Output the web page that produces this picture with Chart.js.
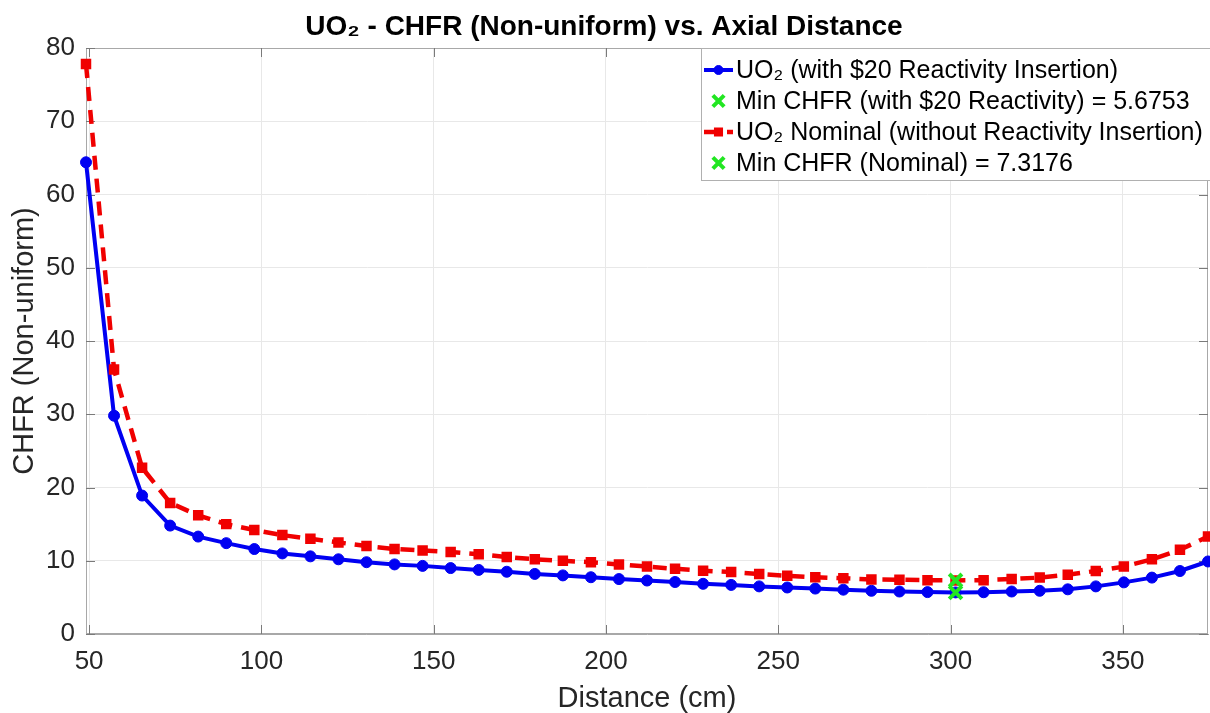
<!DOCTYPE html>
<html>
<head>
<meta charset="utf-8">
<title>UO₂ - CHFR (Non-uniform) vs. Axial Distance</title>
<script src="https://cdn.jsdelivr.net/npm/chart.js@4.4.1/dist/chart.umd.min.js"></script>
<style>
  html, body { margin: 0; padding: 0; background: #ffffff; }
  #wrap { width: 1210px; height: 713px; }
</style>
</head>
<body>
<div id="wrap"><canvas id="chart" width="1210" height="713"></canvas></div>
<script>
// Axial positions of the calculation nodes (cm)
const distance = [
  49.10, 57.24, 65.38, 73.52, 81.66, 89.80, 97.94, 106.08, 114.22, 122.36,
  130.50, 138.64, 146.78, 154.92, 163.06, 171.20, 179.34, 187.48, 195.62, 203.76,
  211.90, 220.04, 228.18, 236.32, 244.46, 252.60, 260.74, 268.88, 277.02, 285.16,
  293.30, 301.44, 309.58, 317.72, 325.86, 334.00, 342.14, 350.28, 358.42, 366.56,
  374.70
];

// CHFR with the $20 reactivity insertion
const chfrReactivity = [
  64.4, 29.8, 18.9, 14.8, 13.3, 12.4, 11.6, 11.0, 10.6, 10.2,
  9.8, 9.5, 9.3, 9.0, 8.75, 8.5, 8.2, 8.0, 7.75, 7.5,
  7.3, 7.1, 6.85, 6.7, 6.5, 6.35, 6.2, 6.05, 5.9, 5.8,
  5.72, 5.6753, 5.7, 5.8, 5.9, 6.1, 6.5, 7.05, 7.7, 8.6,
  9.9
];

// CHFR at nominal conditions (no reactivity insertion)
const chfrNominal = [
  77.8, 36.1, 22.7, 17.9, 16.2, 15.0, 14.2, 13.5, 13.0, 12.5,
  12.0, 11.6, 11.4, 11.2, 10.9, 10.5, 10.2, 10.0, 9.8, 9.5,
  9.2, 8.9, 8.65, 8.45, 8.2, 7.95, 7.75, 7.6, 7.45, 7.4,
  7.35, 7.3176, 7.35, 7.5, 7.7, 8.1, 8.6, 9.2, 10.2, 11.5,
  13.3
];

// Location and value of the minimum CHFR for each case
const minDistance = 301.44;
const minChfrReactivity = 5.6753;
const minChfrNominal = 7.3176;

const xTicks = [50, 100, 150, 200, 250, 300, 350];
const yTicks = [0, 10, 20, 30, 40, 50, 60, 70, 80];

const seriesLabels = [
  'UO₂ (with $20 Reactivity Insertion)',
  'Min CHFR (with $20 Reactivity) = 5.6753',
  'UO₂ Nominal (without Reactivity Insertion)',
  'Min CHFR (Nominal) = 7.3176'
];

const FONT = "'Liberation Sans', Arial, Helvetica, sans-serif";
const BLUE = '#0000f2';
const RED = '#f00000';
const GREEN = '#22e622';
const GRID = '#e8e8e8';
const FRAME = '#a8a8a8';
const INK = '#262626';

const toPoints = (xs, ys) => xs.map((x, i) => ({ x: x, y: ys[i] }));

// Box outline plus inward-pointing tick marks on all four sides
const framePlugin = {
  id: 'frameTicks',
  beforeDatasetsDraw(chart) {
    const { ctx, chartArea: a, scales } = chart;
    ctx.save();
    ctx.strokeStyle = FRAME;
    ctx.lineWidth = 1;
    ctx.strokeRect(Math.round(a.left) + 0.5, Math.round(a.top) + 0.5,
      Math.round(a.right - a.left) - 1, Math.round(a.bottom - a.top) - 1);
    ctx.strokeStyle = '#7a7a7a';
    const len = 9;
    ctx.beginPath();
    xTicks.forEach(v => {
      const px = Math.round(scales.x.getPixelForValue(v)) + 0.5;
      ctx.moveTo(px, a.bottom); ctx.lineTo(px, a.bottom - len);
      ctx.moveTo(px, a.top); ctx.lineTo(px, a.top + len);
    });
    yTicks.forEach(v => {
      const py = Math.round(scales.y.getPixelForValue(v)) + 0.5;
      ctx.moveTo(a.left, py); ctx.lineTo(a.left + len, py);
      ctx.moveTo(a.right, py); ctx.lineTo(a.right - len, py);
    });
    ctx.stroke();
    ctx.restore();
  }
};

// Legend box in the upper-right corner of the axes
const legendPlugin = {
  id: 'boxLegend',
  afterDraw(chart) {
    const { ctx, chartArea: a } = chart;
    const left = a.right - 507;
    const top = a.top;
    const rowH = 31;
    const height = 132;
    ctx.save();
    ctx.fillStyle = '#ffffff';
    ctx.fillRect(left, top, chart.width - left + 5, height);
    ctx.strokeStyle = '#b0b0b0';
    ctx.lineWidth = 1;
    ctx.strokeRect(Math.round(left) + 0.5, Math.round(top) + 0.5, chart.width - left + 5, height);

    chart.data.datasets.forEach((ds, i) => {
      const cy = top + 22 + i * rowH;
      const x0 = left + 3, x1 = left + 32, cx = (x0 + x1) / 2;
      if (ds.showLine) {
        ctx.save();
        ctx.strokeStyle = ds.borderColor;
        ctx.lineWidth = ds.borderWidth;
        ctx.setLineDash(ds.borderDash || []);
        ctx.beginPath();
        ctx.moveTo(x0, cy); ctx.lineTo(x1, cy);
        ctx.stroke();
        ctx.restore();
      }
      ctx.fillStyle = ds.pointBackgroundColor;
      ctx.strokeStyle = ds.pointBorderColor;
      ctx.lineWidth = ds.pointBorderWidth;
      Chart.helpers.drawPoint(ctx, {
        pointStyle: ds.pointStyle,
        radius: ds.pointRadius - 1,
        rotation: 0,
        borderWidth: ds.pointBorderWidth
      }, cx, cy);
      ctx.fillStyle = '#000000';
      ctx.font = '25px ' + FONT;
      ctx.textBaseline = 'middle';
      ctx.textAlign = 'left';
      ctx.fillText(ds.label, left + 35, cy + 1);
    });
    ctx.restore();
  }
};

new Chart(document.getElementById('chart'), {
  type: 'scatter',
  data: {
    datasets: [
      {
        label: seriesLabels[0],
        data: toPoints(distance, chfrReactivity),
        showLine: true,
        borderColor: BLUE,
        backgroundColor: BLUE,
        borderWidth: 4,
        pointStyle: 'circle',
        pointRadius: 5.5,
        pointBackgroundColor: BLUE,
        pointBorderColor: BLUE,
        pointBorderWidth: 1,
        clip: false,
        order: 3
      },
      {
        label: seriesLabels[1],
        data: [{ x: minDistance, y: minChfrReactivity }],
        showLine: false,
        pointStyle: 'crossRot',
        pointRadius: 9,
        pointBackgroundColor: GREEN,
        pointBorderColor: GREEN,
        pointBorderWidth: 4,
        clip: false,
        order: 1
      },
      {
        label: seriesLabels[2],
        data: toPoints(distance, chfrNominal),
        showLine: true,
        borderColor: RED,
        backgroundColor: RED,
        borderWidth: 4.5,
        borderDash: [14, 9],
        pointStyle: 'rect',
        pointRadius: 6,
        pointBackgroundColor: RED,
        pointBorderColor: RED,
        pointBorderWidth: 2,
        clip: false,
        order: 2
      },
      {
        label: seriesLabels[3],
        data: [{ x: minDistance, y: minChfrNominal }],
        showLine: false,
        pointStyle: 'crossRot',
        pointRadius: 9,
        pointBackgroundColor: GREEN,
        pointBorderColor: GREEN,
        pointBorderWidth: 4,
        clip: false,
        order: 0
      }
    ]
  },
  options: {
    responsive: false,
    maintainAspectRatio: false,
    animation: false,
    devicePixelRatio: 1,
    layout: { autoPadding: false, padding: { left: 0, right: 2, top: 0, bottom: 0 } },
    plugins: {
      legend: { display: false },
      tooltip: { enabled: false },
      title: {
        display: true,
        text: 'UO₂ - CHFR (Non-uniform) vs. Axial Distance',
        color: '#000000',
        font: { family: FONT, size: 28, weight: 'bold', lineHeight: 1.2 },
        padding: { top: 10, bottom: 4.4 }
      }
    },
    scales: {
      x: {
        type: 'linear',
        min: distance[0],
        max: distance[distance.length - 1],
        afterBuildTicks: s => { s.ticks = xTicks.map(v => ({ value: v })); },
        afterFit: s => { s.height = 79; },
        ticks: {
          color: INK,
          font: { family: FONT, size: 26 },
          padding: 12,
          maxRotation: 0
        },
        grid: { color: GRID, lineWidth: 1, drawTicks: false },
        border: { display: true, color: FRAME, width: 1 },
        title: {
          display: true,
          text: 'Distance (cm)',
          color: INK,
          font: { family: FONT, size: 29, lineHeight: 1 },
          padding: { top: 0, bottom: 0 }
        }
      },
      y: {
        type: 'linear',
        min: 0,
        max: 80,
        afterBuildTicks: s => { s.ticks = yTicks.map(v => ({ value: v })); },
        afterFit: s => { s.width = 86; },
        ticks: {
          color: INK,
          font: { family: FONT, size: 26 },
          padding: 11
        },
        grid: { color: GRID, lineWidth: 1, drawTicks: false },
        border: { display: true, color: FRAME, width: 1 },
        title: {
          display: true,
          text: 'CHFR (Non-uniform)',
          color: INK,
          font: { family: FONT, size: 29, lineHeight: 1 },
          padding: { top: 10.5, bottom: 0 }
        }
      }
    }
  },
  plugins: [framePlugin, legendPlugin]
});
</script>
</body>
</html>
